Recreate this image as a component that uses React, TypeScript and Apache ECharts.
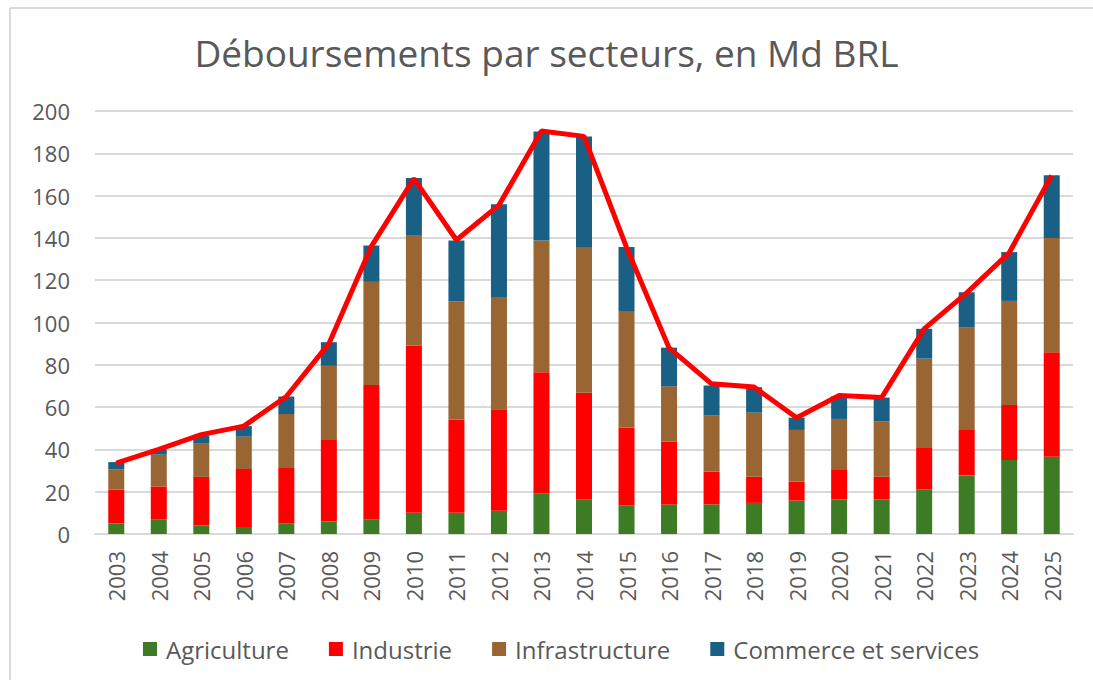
import React, { useEffect, useRef } from "react";
import * as echarts from "echarts";

const years = ["2003","2004","2005","2006","2007","2008","2009","2010","2011","2012","2013","2014","2015","2016","2017","2018","2019","2020","2021","2022","2023","2024","2025"];
const agriculture = [5, 7, 4, 3.3, 5, 6, 7, 10, 10, 11, 19, 16.5, 13.6, 14, 14, 14.7, 15.8, 16.4, 16.4, 21, 27.7, 35, 36.5];
const industrie = [16, 15.5, 23, 27.4, 26.2, 38.5, 63.5, 79, 44, 48, 57.5, 50.3, 36.7, 29.6, 15.4, 12.4, 8.9, 13.9, 10.7, 19.7, 21.5, 26, 49.4];
const infrastructure = [9.5, 15, 16, 15.3, 25.5, 35, 48.7, 52, 56, 53, 62.3, 68.9, 55.1, 26.2, 26.7, 30.3, 24.5, 24.1, 26.2, 42.2, 48.5, 49.2, 54.1];
const commerce = [3.5, 2.5, 3.6, 5, 8.3, 11.2, 17.2, 27.3, 28.8, 43.9, 51.5, 52.2, 30.3, 18.3, 14.1, 12, 5.8, 10.8, 11.2, 14.1, 16.6, 23.1, 29.6];
const total = [33.5, 40, 47, 51, 65, 90, 136, 168, 139, 155.5, 190.5, 188, 135.5, 88, 71, 69.5, 55, 65.5, 64.5, 97, 114, 133, 169.5];

const FONT = "Open Sans";
const TXT = "#595959";

export default function App() {
  const ref = useRef<HTMLDivElement>(null);
  useEffect(() => {
    document.body.style.margin = "0";
    const chart = echarts.init(ref.current!, null, { renderer: "svg" });
    const bar = (name: string, data: number[], color: string) => ({
      name,
      type: "bar",
      stack: "s",
      barWidth: 16,
      data,
      itemStyle: { color },
    });
    chart.setOption({
      animation: false,
      backgroundColor: "#ffffff",
      textStyle: { fontFamily: FONT },
      title: {
        text: "Déboursements par secteurs, en Md BRL",
        left: "center",
        top: 29,
        textStyle: { fontFamily: FONT, fontSize: 37, fontWeight: "normal", color: TXT },
      },
      graphic: [
        { type: "line", shape: { x1: 10, y1: 8, x2: 1093, y2: 8 }, style: { stroke: "#d9d9d9", lineWidth: 2 } },
        { type: "line", shape: { x1: 10, y1: 8, x2: 10, y2: 680 }, style: { stroke: "#d9d9d9", lineWidth: 2 } },
      ],
      legend: {
        data: ["Agriculture", "Industrie", "Infrastructure", "Commerce et services"],
        left: 138,
        top: 632,
        icon: "rect",
        itemWidth: 14,
        itemHeight: 14,
        itemGap: 40,
        textStyle: { fontFamily: FONT, fontSize: 24, color: TXT, padding: [0, 0, 0, 4] },
      },
      grid: { left: 95, right: 20, top: 111, bottom: 146, containLabel: false },
      xAxis: {
        type: "category",
        data: years,
        axisTick: { show: false },
        axisLine: { lineStyle: { color: "#d9d9d9", width: 2 } },
        axisLabel: { rotate: 90, margin: 17, fontSize: 22, color: TXT, fontFamily: FONT },
      },
      yAxis: {
        type: "value",
        min: 0,
        max: 200,
        interval: 20,
        axisLabel: { margin: 25, fontSize: 22, color: TXT, fontFamily: FONT },
        splitLine: { lineStyle: { color: "#d9d9d9", width: 2 } },
      },
      series: [
        bar("Agriculture", agriculture, "#3d7b24"),
        bar("Industrie", industrie, "#ff0000"),
        bar("Infrastructure", infrastructure, "#996633"),
        bar("Commerce et services", commerce, "#1a6084"),
        {
          name: "Total",
          type: "line",
          data: total,
          symbol: "none",
          z: 5,
          lineStyle: { color: "#ff0000", width: 5 },
        },
      ],
    });
    return () => chart.dispose();
  }, []);
  return <div ref={ref} style={{ width: 1093, height: 680 }} />;
}
